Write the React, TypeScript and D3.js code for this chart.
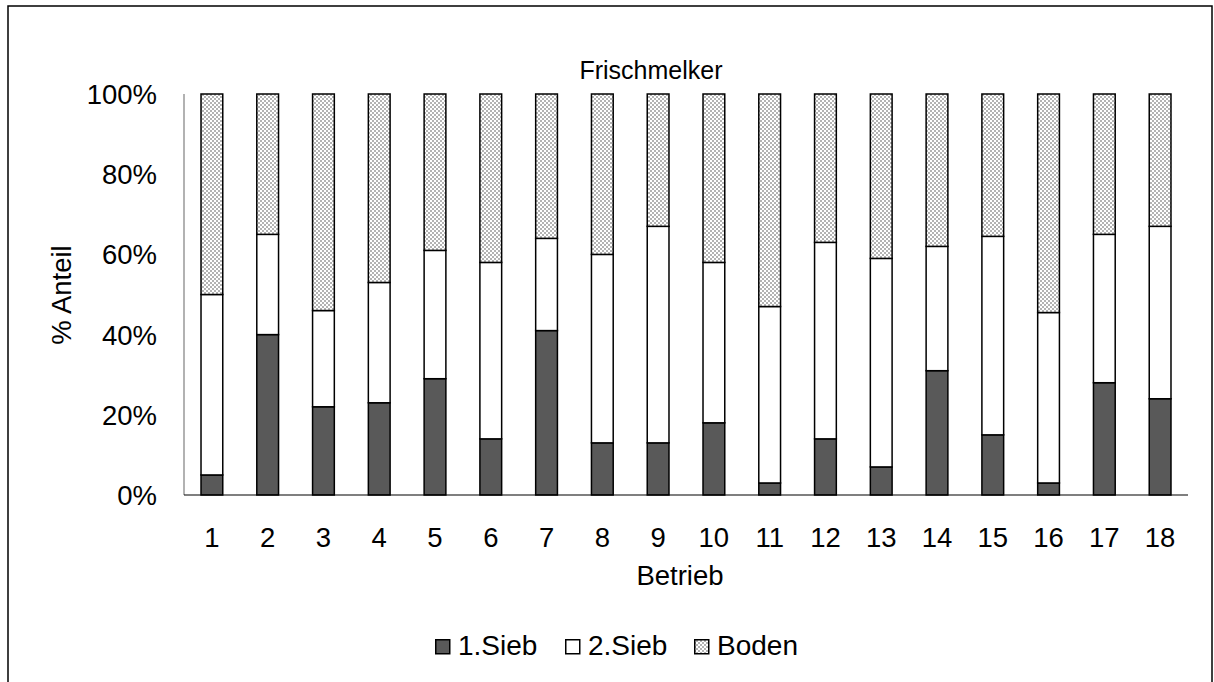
import React from "react";
import * as d3 from "d3";

const categories = ["1","2","3","4","5","6","7","8","9","10","11","12","13","14","15","16","17","18"];
const sieb1 = [5, 40, 22, 23, 29, 14, 41, 13, 13, 18, 3, 14, 7, 31, 15, 3, 28, 24];
const sieb2 = [45, 25, 24, 30, 32, 44, 23, 47, 54, 40, 44, 49, 52, 31, 49.5, 42.5, 37, 43];
const boden = [50, 35, 54, 47, 39, 42, 36, 40, 33, 42, 53, 37, 41, 38, 35.5, 54.5, 35, 33];
const seriesNames = ["1.Sieb", "2.Sieb", "Boden"];
const yTicks = [0, 20, 40, 60, 80, 100];

const W = 1214, H = 682;
const FONT = "'Liberation Sans', Arial, sans-serif";

export default function App() {
  const x = d3.scaleBand<string>().domain(categories).range([184, 1188]).padding(0);
  const y = d3.scaleLinear().domain([0, 100]).range([495, 94]);
  const barW = x.bandwidth() * 0.39;

  const rows = categories.map((c, i) => ({ cat: c, s1: sieb1[i], s2: sieb2[i], b: boden[i] }));
  const stack = d3.stack<any>().keys(["s1", "s2", "b"])(rows);
  const fills = ["#595959", "#ffffff", "url(#checker)"];

  return (
    <div style={{ position: "fixed", left: 0, top: 0 }}>
      <svg width={W} height={H} style={{ display: "block", fontFamily: FONT }}>
        <defs>
          <pattern id="checker" width={4} height={4} patternUnits="userSpaceOnUse">
            <rect width={4} height={4} fill="#ffffff" />
            <rect width={2} height={2} fill="#b3b3b3" />
            <rect x={2} y={2} width={2} height={2} fill="#b3b3b3" />
          </pattern>
        </defs>
        <rect x={0} y={0} width={W} height={H} fill="#fff" />
        <rect x={8} y={6} width={1204} height={700} fill="none" stroke="#000" strokeWidth={1.5} />

        <text x={651} y={79} textAnchor="middle" fontSize={25} fill="#000">Frischmelker</text>

        {yTicks.map((t) => (
          <text key={t} x={157} y={y(t)} dy="0.36em" textAnchor="end" fontSize={27.5} fill="#000">{t}%</text>
        ))}

        {stack.map((layer, li) =>
          layer.map((d, i) => (
            <rect
              key={li + "-" + i}
              x={(x(categories[i]) as number) + x.bandwidth() / 2 - barW / 2}
              y={y(d[1])}
              width={barW}
              height={y(d[0]) - y(d[1])}
              fill={fills[li]}
              stroke="#000"
              strokeWidth={1.5}
            />
          ))
        )}

        <line x1={184} x2={184} y1={94} y2={495} stroke="#7f7f7f" strokeWidth={1.2} />
        <line x1={184} x2={1188} y1={495} y2={495} stroke="#000" strokeWidth={1.2} />

        {categories.map((c) => (
          <text key={c} x={(x(c) as number) + x.bandwidth() / 2} y={547} textAnchor="middle" fontSize={27.5} fill="#000">{c}</text>
        ))}

        <text x={680} y={585} textAnchor="middle" fontSize={27.5} fill="#000">Betrieb</text>
        <text transform="translate(71,295) rotate(-90)" textAnchor="middle" fontSize={27.5} fill="#000">% Anteil</text>

        {seriesNames.map((n, i) => {
          const lx = [435, 565, 694][i];
          return (
            <g key={n}>
              <rect x={lx + 0.75} y={639.75} width={14} height={14} fill={fills[i]} stroke="#000" strokeWidth={1.5} />
              <text x={lx + 23} y={655} fontSize={28} fill="#000">{n}</text>
            </g>
          );
        })}
      </svg>
    </div>
  );
}
